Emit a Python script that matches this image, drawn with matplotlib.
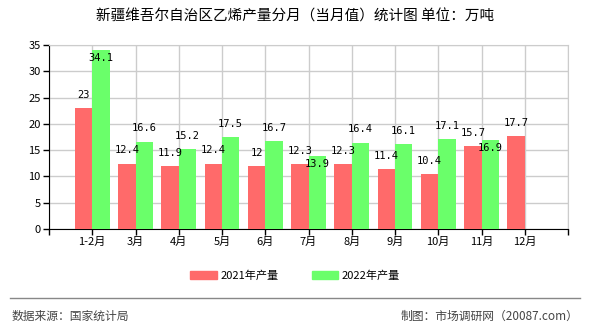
import numpy as np
import matplotlib
matplotlib.use("Agg")
import matplotlib.pyplot as plt

plt.rcParams['font.family'] = ['Noto Sans CJK SC', 'DejaVu Sans']

months = ["1-2月", "3月", "4月", "5月", "6月", "7月", "8月", "9月", "10月", "11月", "12月"]
prod_2021 = [23, 12.4, 11.9, 12.4, 12, 12.3, 12.3, 11.4, 10.4, 15.7, 17.7]
prod_2022 = [34.1, 16.6, 15.2, 17.5, 16.7, 13.9, 16.4, 16.1, 17.1, 16.9, None]

red = "#ff6a6a"
green = "#6aff6a"

fig = plt.figure(figsize=(5.9, 3.3), dpi=100)
ax = fig.add_axes([49 / 590, 1 - 229 / 330, 519 / 590, 184 / 330])

x = np.arange(len(months))
w = 0.4
ax.bar(x - w / 2, prod_2021, w, color=red, zorder=3)
x22 = [i for i, v in enumerate(prod_2022) if v is not None]
v22 = [v for v in prod_2022 if v is not None]
ax.bar(np.array(x22) + w / 2, v22, w, color=green, zorder=3)

lab = dict(fontsize=7.5, family=['DejaVu Sans Mono'], ha='center', zorder=4)
for i, v in enumerate(prod_2021):
    ax.annotate(f"{v:g}", (i - w / 2, v), xytext=(0, 6), textcoords='offset points',
                va='bottom', **lab)
for i, v in zip(x22, v22):
    # labels that would collide or clip sit inside the bar
    if i in (0, 5, 9):
        ax.annotate(f"{v:g}", (i + w / 2, v), xytext=(0, -2), textcoords='offset points',
                    va='top', **lab)
    else:
        ax.annotate(f"{v:g}", (i + w / 2, v), xytext=(0, 6), textcoords='offset points',
                    va='bottom', **lab)

ax.set_xlim(-1, len(months))
ax.set_ylim(0, 35)
ax.set_yticks(range(0, 36, 5))
ax.set_xticks(np.arange(-1, len(months) + 1))
ax.set_xticklabels([""] + months + [""])
ax.tick_params(labelsize=8, length=4, width=1, pad=2)
ax.grid(True, color="#cccccc", lw=1, zorder=0)
for s in ("top", "right"):
    ax.spines[s].set_color("#cccccc")
for s in ("left", "bottom"):
    ax.spines[s].set_color("black")

handles = [plt.Rectangle((0, 0), 1, 1, color=red), plt.Rectangle((0, 0), 1, 1, color=green)]
fig.legend(handles, ["2021年产量", "2022年产量"], loc='center', bbox_to_anchor=(0.5, 1 - 276 / 330),
           ncol=2, frameon=False, fontsize=8, handlelength=2.4, handleheight=0.7,
           handletextpad=0.3, columnspacing=3)

fig.text(0.5, 1 - 17 / 330, "新疆维吾尔自治区乙烯产量分月（当月值）统计图 单位：万吨",
         ha='center', va='center', fontsize=10.5)
fig.add_artist(plt.Line2D([10 / 590, 580 / 590], [1 - 298 / 330] * 2, color="#888888", lw=1))
fig.text(12 / 590, 1 - 316 / 330, "数据来源：国家统计局", ha='left', va='center', fontsize=8.5, color="#444444")
fig.text(578 / 590, 1 - 316 / 330, "制图：市场调研网（20087.com）", ha='right', va='center', fontsize=8.5, color="#444444")

fig.savefig("out.png", dpi=100)
